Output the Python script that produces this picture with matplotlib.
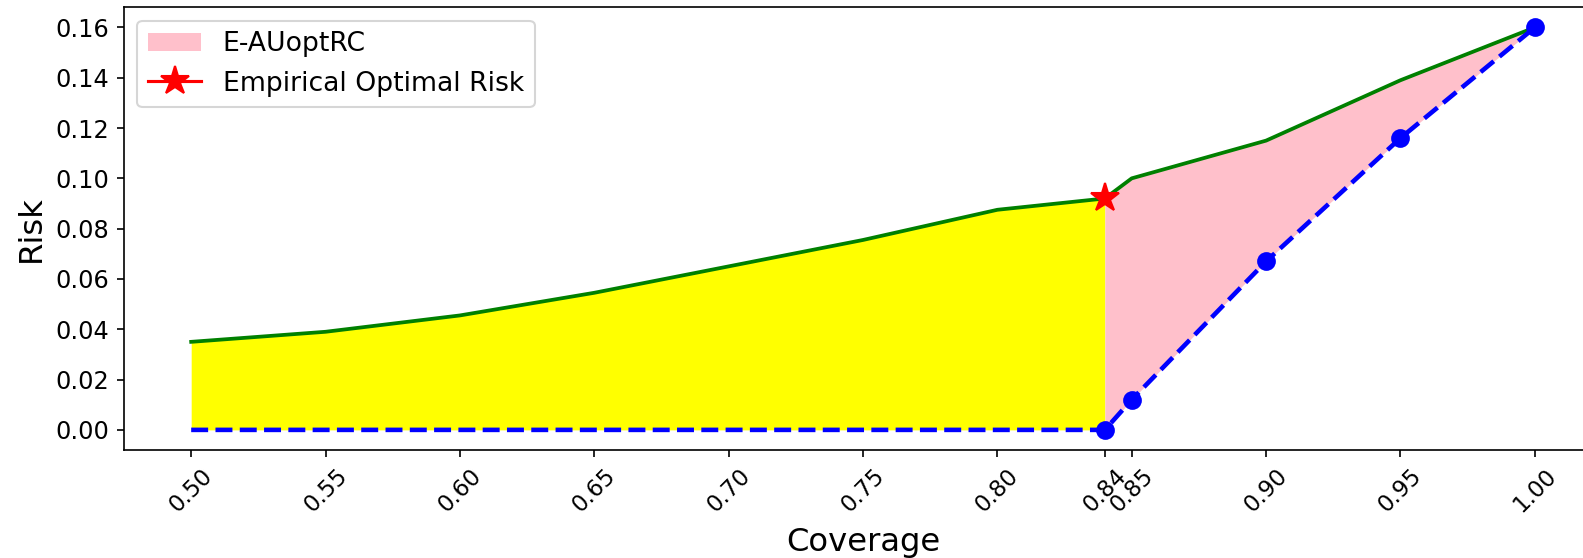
import matplotlib
matplotlib.use("Agg")
import matplotlib.pyplot as plt
import numpy as np

# Coverage grid and risk curves
coverage = [0.50, 0.55, 0.60, 0.65, 0.70, 0.75, 0.80, 0.84, 0.85, 0.90, 0.95, 1.00]
selective_risk = [0.035, 0.039, 0.0455, 0.0545, 0.065, 0.0755, 0.0875, 0.092, 0.100, 0.115, 0.139, 0.160]
optimal_risk = [0.0, 0.0, 0.0, 0.0, 0.0, 0.0, 0.0, 0.0, 0.012, 0.067, 0.116, 0.160]
tick_labels = ["0.50", "0.55", "0.60", "0.65", "0.70", "0.75", "0.80", "0.84", "0.85", "0.90", "0.95", "1.00"]
opt_coverage = 0.84
opt_risk = 0.092

cov = np.array(coverage)
sel = np.array(selective_risk)
opt = np.array(optimal_risk)
k = int(np.argmin(np.abs(cov - opt_coverage)))

DPI = 150
fig = plt.figure(figsize=(1583 / DPI, 558 / DPI), dpi=DPI)
ax = fig.add_axes([124 / 1583, 1 - 450 / 558, 1478 / 1583, (450 - 7.3) / 558])

# Shaded regions
ax.fill_between(cov[:k + 1], 0, sel[:k + 1], color="yellow", linewidth=0)
ax.fill_between(cov[k:], opt[k:], sel[k:], color="pink", linewidth=0, label="E-AUoptRC")

# Curves
ax.plot(cov, sel, color="green", lw=1.8)
ax.plot(cov, opt, color="blue", ls="--", lw=2.2)
ax.plot(cov[k:], opt[k:], "o", color="blue", ms=8)
ax.plot([opt_coverage], [opt_risk], color="red", marker="*", ms=14, label="Empirical Optimal Risk")

ax.set_xticks(coverage)
ax.set_xticklabels(tick_labels, rotation=45)
ax.tick_params(axis="x", labelsize=11)
ax.tick_params(axis="y", labelsize=11.5)
ax.set_xlabel("Coverage", fontsize=15.5, labelpad=5)
ax.set_ylabel("Risk", fontsize=15.5)
ax.legend(loc="upper left", fontsize=12.8)

fig.savefig("out.png", dpi=DPI)
